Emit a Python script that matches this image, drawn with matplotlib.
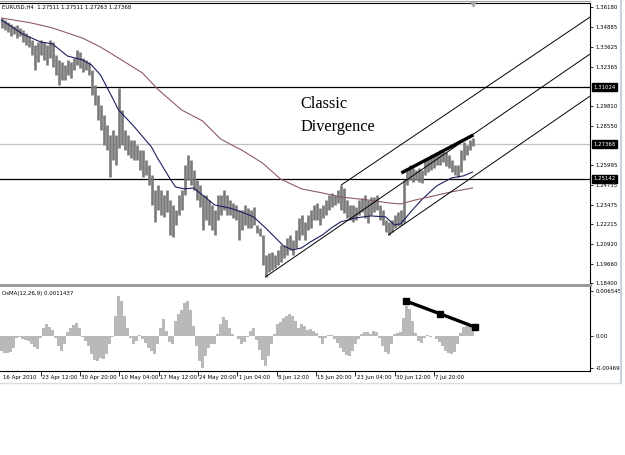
import matplotlib
matplotlib.use('Agg')
import matplotlib.pyplot as plt
import matplotlib.font_manager as fm
import numpy as np
from matplotlib.lines import Line2D
from matplotlib.transforms import blended_transform_factory, offset_copy

# pick a narrow sans font for the small MetaTrader-style labels
_names = {f.name for f in fm.fontManager.ttflist}
_cond = [f for f in fm.fontManager.ttflist
         if f.name == 'DejaVu Sans' and 'condensed' in str(f.stretch).lower()]
if 'Liberation Sans Narrow' in _names:
    SMALL = dict(family=['Liberation Sans Narrow', 'DejaVu Sans'], fontsize=5.0)
elif _cond:
    SMALL = dict(family=['DejaVu Sans'], fontstretch='condensed', fontsize=4.3)
else:
    SMALL = dict(family=['Liberation Sans', 'DejaVu Sans'], fontsize=4.3)
plt.rcParams['font.family'] = SMALL['family']

# ---------------- data (EURUSD H4, one entry per plotted bar) ----------------
highs = [1.3549, 1.3536, 1.3523, 1.3510, 1.3498, 1.3504, 1.3485, 1.3472, 1.3452, 1.3433,
         1.3407, 1.3375, 1.3395, 1.3407, 1.3395, 1.3375, 1.3407, 1.3395, 1.3311, 1.3279,
         1.3266, 1.3246, 1.3279, 1.3266, 1.3291, 1.3343, 1.3330, 1.3291, 1.3279, 1.3266,
         1.3214, 1.3118, 1.3053, 1.2989, 1.2924, 1.2860, 1.2796, 1.2828, 1.2796, 1.3098,
         1.2957, 1.2828, 1.2796, 1.2763, 1.2763, 1.2731, 1.2699, 1.2699, 1.2635, 1.2602,
         1.2538, 1.2441, 1.2474, 1.2441, 1.2409, 1.2441, 1.2377, 1.2345, 1.2313, 1.2409,
         1.2441, 1.2602, 1.2667, 1.2635, 1.2570, 1.2506, 1.2474, 1.2409, 1.2409, 1.2377,
         1.2345, 1.2313, 1.2409, 1.2409, 1.2441, 1.2409, 1.2377, 1.2358, 1.2345, 1.2313,
         1.2313, 1.2345, 1.2325, 1.2313, 1.2332, 1.2216, 1.2197, 1.2152, 1.2023, 1.2036,
         1.2042, 1.2023, 1.2055, 1.2087, 1.2087, 1.2132, 1.2152, 1.2119, 1.2184, 1.2261,
         1.2280, 1.2235, 1.2280, 1.2313, 1.2345, 1.2358, 1.2325, 1.2345, 1.2377, 1.2409,
         1.2422, 1.2409, 1.2441, 1.2474, 1.2454, 1.2377, 1.2345, 1.2345, 1.2332, 1.2377,
         1.2390, 1.2409, 1.2377, 1.2396, 1.2396, 1.2409, 1.2345, 1.2313, 1.2248, 1.2235,
         1.2248, 1.2280, 1.2300, 1.2313, 1.2506, 1.2570, 1.2602, 1.2583, 1.2570, 1.2583,
         1.2570, 1.2635, 1.2647, 1.2667, 1.2667, 1.2686, 1.2699, 1.2699, 1.2686, 1.2667,
         1.2635, 1.2602, 1.2602, 1.2699, 1.2750, 1.2731, 1.2763, 1.2776]
lows = [1.3485, 1.3472, 1.3459, 1.3433, 1.3446, 1.3420, 1.3433, 1.3395, 1.3375, 1.3362,
        1.3311, 1.3214, 1.3266, 1.3311, 1.3279, 1.3246, 1.3291, 1.3234, 1.3182, 1.3118,
        1.3150, 1.3150, 1.3182, 1.3163, 1.3214, 1.3246, 1.3227, 1.3201, 1.3214, 1.3182,
        1.3053, 1.2989, 1.2892, 1.2828, 1.2731, 1.2699, 1.2525, 1.2635, 1.2602, 1.2712,
        1.2731, 1.2699, 1.2667, 1.2647, 1.2635, 1.2635, 1.2570, 1.2525, 1.2538, 1.2474,
        1.2345, 1.2235, 1.2313, 1.2280, 1.2268, 1.2300, 1.2152, 1.2139, 1.2216, 1.2280,
        1.2313, 1.2409, 1.2506, 1.2474, 1.2441, 1.2377, 1.2332, 1.2184, 1.2248, 1.2216,
        1.2184, 1.2152, 1.2248, 1.2280, 1.2313, 1.2280, 1.2280, 1.2261, 1.2248, 1.2119,
        1.2184, 1.2216, 1.2197, 1.2197, 1.2216, 1.2165, 1.2145, 1.1958, 1.1881, 1.1913,
        1.1926, 1.1939, 1.1958, 1.1978, 1.2004, 1.2023, 1.2055, 1.2023, 1.2068, 1.2119,
        1.2152, 1.2119, 1.2184, 1.2197, 1.2248, 1.2248, 1.2216, 1.2261, 1.2280, 1.2313,
        1.2332, 1.2345, 1.2358, 1.2313, 1.2293, 1.2261, 1.2248, 1.2235, 1.2248, 1.2280,
        1.2300, 1.2261, 1.2229, 1.2280, 1.2300, 1.2313, 1.2248, 1.2216, 1.2171, 1.2152,
        1.2171, 1.2197, 1.2210, 1.2216, 1.2229, 1.2474, 1.2506, 1.2493, 1.2506, 1.2493,
        1.2487, 1.2538, 1.2557, 1.2570, 1.2583, 1.2602, 1.2602, 1.2622, 1.2596, 1.2583,
        1.2557, 1.2538, 1.2525, 1.2557, 1.2635, 1.2667, 1.2699, 1.2725]

# OsMA(12,26,9) histogram, in units of 1e-4
osma_e4 = [-22, -25, -25, -23, -18, -3, -1, -4, -6, -7,
           -12, -16, -19, -3, 12, 18, 13, 9, -3, -15,
           -22, -12, 6, 12, 16, 19, 12, -1, -7, -15,
           -26, -35, -37, -32, -34, -26, -12, -1, 29, 58,
           51, 29, 12, -3, -12, -7, 1, -4, -10, -18,
           -22, -26, -12, 12, 25, 7, -9, -12, 22, 32,
           38, 48, 51, 37, 15, -15, -37, -47, -29, -18,
           -12, -12, 3, 18, 28, 23, 12, 3, 0, -4,
           -12, -9, -1, 7, 12, -6, -20, -35, -44, -29,
           -12, 3, 18, 20, 26, 29, 32, 29, 22, 12,
           18, 15, 9, 10, 7, 4, -3, -12, -3, 1,
           1, -4, -10, -18, -23, -28, -29, -22, -12, -4,
           3, 6, 6, 3, 7, 6, -3, -15, -23, -26,
           -12, 3, 4, 6, 26, 44, 39, 22, 4, -7,
           -10, -3, 1, -1, 0, -4, -9, -15, -22, -25,
           -26, -23, -12, 4, 13, 15, 15, 11]

# moving averages (bar index, price)
ma_fast_idx = [0, 7, 13, 17, 22, 27, 30, 33, 37, 39, 44, 50, 52, 56, 58, 61, 64, 67, 71, 76,
               80, 84, 88, 91, 94, 97, 100, 103, 107, 110, 113, 118, 123, 128, 131, 133,
               137, 140, 145, 150, 154, 157]
ma_fast_val = [1.3536, 1.3446, 1.3395, 1.3382, 1.3304, 1.3279, 1.3246, 1.3182, 1.3034, 1.2957,
               1.2854, 1.2718, 1.2647, 1.2519, 1.2461, 1.2448, 1.2454, 1.2409, 1.2345, 1.2325,
               1.2300, 1.2268, 1.2197, 1.2139, 1.2081, 1.2055, 1.2068, 1.2107, 1.2152, 1.2197,
               1.2235, 1.2261, 1.2274, 1.2268, 1.2216, 1.2223, 1.2313, 1.2377, 1.2467, 1.2519,
               1.2532, 1.2557]
ma_slow_idx = [0, 10, 17, 27, 33, 40, 47, 52, 60, 67, 73, 78, 80, 87, 93, 100, 107, 113,
               122, 129, 133, 138, 144, 150, 157]
ma_slow_val = [1.3549, 1.3517, 1.3485, 1.3420, 1.3362, 1.3279, 1.3195, 1.3092, 1.2957, 1.2886,
               1.2770, 1.2718, 1.2699, 1.2615, 1.2512, 1.2448, 1.2422, 1.2396, 1.2377, 1.2358,
               1.2351, 1.2377, 1.2403, 1.2429, 1.2454]

# channel lines (start bar, start price, end bar, end price)
channel_lines = [(113.3, 1.2474, 196.7, 1.3562),
                 (88.0, 1.1881, 196.7, 1.3324),
                 (129.0, 1.2152, 196.7, 1.3053)]
price_div_idx = [133.3, 157.3]
price_div_val = [1.2551, 1.2796]
osma_div_idx = [134.7, 146.3, 157.7]
osma_div_val = [0.0051, 0.0032, 0.0013]

hlines_black = [1.31024, 1.25142]
hline_bid = 1.27368

price_ticks = [1.36180, 1.34885, 1.33625, 1.32365, 1.29810, 1.28550, 1.25995,
               1.24735, 1.23475, 1.22215, 1.20920, 1.19660, 1.18400]
boxed_levels = [1.31024, 1.27368, 1.25142]
osma_ticks = [0.006545, 0.0, -0.00469]
osma_tick_labels = ['0.006545', '0.00', '-0.00469']

time_pos = [0, 13.1, 26.2, 39.3, 52.4, 65.5, 78.6, 91.7, 104.8, 117.9, 131.0, 144.1]
time_labels = ['16 Apr 2010', '23 Apr 12:00', '30 Apr 20:00', '10 May 04:00', '17 May 12:00',
               '24 May 20:00', '1 Jun 04:00', '8 Jun 12:00', '15 Jun 20:00', '23 Jun 04:00',
               '30 Jun 12:00', '7 Jul 20:00']

# ---------------- figure ----------------
W, H = 625, 455
fig = plt.figure(figsize=(W / 100, H / 100), dpi=100)
fig.patch.set_facecolor('white')

def fx(px):
    return px / W

def fy(py):
    return 1 - py / H

def small(obj):
    obj.set_family(SMALL['family'])
    obj.set_fontsize(SMALL['fontsize'])
    if 'fontstretch' in SMALL:
        obj.set_fontstretch(SMALL['fontstretch'])

ax = fig.add_axes([0, fy(285), fx(590), (285 - 3) / H])
ax2 = fig.add_axes([0, fy(371), fx(590), (371 - 287) / H])

n = len(highs)
idx = np.arange(n)
XMIN, XMAX = -0.5, -0.5 + 590 / 3

# price bars
ax.vlines(idx, lows, highs, colors='#7a7a7a', linewidth=1.9, zorder=3)
ax.plot(ma_fast_idx, ma_fast_val, color='#1b1f5e', lw=0.8, zorder=4)
ax.plot(ma_slow_idx, ma_slow_val, color='#8e5c66', lw=0.8, zorder=4)
for (x0, y0, x1, y1) in channel_lines:
    ax.plot([x0, x1], [y0, y1], color='black', lw=0.7, zorder=5)
ax.plot(price_div_idx, price_div_val, color='black', lw=2.4, solid_capstyle='butt', zorder=6)
for lv in hlines_black:
    ax.axhline(lv, color='black', lw=0.9, zorder=2)
ax.axhline(hline_bid, color='#c0c0c0', lw=0.9, zorder=2)

ax.set_xlim(XMIN, XMAX)
ax.set_ylim(1.18290, 1.36457)
ax.set_xticks([])
ax.yaxis.set_ticks_position('right')
ax.set_yticks(price_ticks)
ax.set_yticklabels(['%.5f' % v for v in price_ticks])
ax.tick_params(axis='y', direction='out', length=2.5, width=0.6, pad=1.5, colors='black')
for t in ax.get_yticklabels():
    small(t)
ax.spines['left'].set_visible(False)
ax.spines['top'].set_linewidth(0.8)
ax.spines['right'].set_linewidth(0.8)
ax.spines['bottom'].set_color('#9a9a9a')
ax.spines['bottom'].set_linewidth(2.2)

trb = blended_transform_factory(ax.transAxes, ax.transData)
for lv in boxed_levels:
    t = ax.text(1 + 3 / 590, lv, '%.5f' % lv, transform=trb, ha='left', va='center',
                color='white', bbox=dict(boxstyle='square,pad=0.25', fc='black', ec='black'))
    small(t)

# small shift marker at top
ax.plot([157], [1.3639], marker='v', color='#a8a8a8', ms=3.5, clip_on=False, zorder=7)

# texts
fig.text(fx(300), fy(108), 'Classic', family=['Liberation Serif', 'DejaVu Serif'],
         fontsize=11.7, va='baseline', ha='left')
fig.text(fx(300), fy(131), 'Divergence', family=['Liberation Serif', 'DejaVu Serif'],
         fontsize=11.7, va='baseline', ha='left')
small(fig.text(fx(2), fy(7.5), 'EURUSD,H4  1.27511 1.27511 1.27263 1.27368',
               va='center', ha='left'))

# ---------------- OsMA panel ----------------
osma = np.array(osma_e4) * 1e-4
ax2.bar(idx, osma, width=1.0, color='#b9b9b9', edgecolor='none', zorder=2)
ax2.plot(osma_div_idx, osma_div_val, color='black', lw=2.4, marker='s', ms=4.2, zorder=5)
ax2.set_xlim(XMIN, XMAX)
ax2.set_ylim(-0.005128, 0.007129)
ax2.yaxis.set_ticks_position('right')
ax2.set_yticks(osma_ticks)
ax2.set_yticklabels(osma_tick_labels)
ax2.tick_params(axis='y', direction='out', length=2.5, width=0.6, pad=1.5)
for t in ax2.get_yticklabels():
    small(t)
ax2.set_xticks(time_pos[1:])
ax2.set_xticklabels([])
ax2.tick_params(axis='x', direction='out', length=3.5, width=0.6)
ax2.spines['left'].set_visible(False)
ax2.spines['top'].set_visible(False)
ax2.spines['right'].set_linewidth(0.8)
ax2.spines['bottom'].set_linewidth(0.8)
small(ax2.text(2 / 590, 0.95, 'OsMA(12,26,9) 0.0011437', transform=ax2.transAxes,
               va='top', ha='left'))

trx = blended_transform_factory(ax2.transData, ax2.transAxes)
for p, lab in zip(time_pos, time_labels):
    t = offset_copy(trx, fig=fig, x=1.0, y=-2.6, units='points')
    small(ax2.text(p, 0, lab, transform=t, ha='left', va='top'))

# window frame lines
fig.add_artist(Line2D([fx(620.5), fx(620.5)], [fy(0), fy(383)], color='#c9d3df', lw=1.5))
fig.add_artist(Line2D([0, fx(621)], [fy(383), fy(383)], color='#dcdcdc', lw=1.0))
fig.add_artist(Line2D([0, fx(590)], [fy(0.5), fy(0.5)], color='#a0a0a0', lw=0.8))

fig.savefig('out.png', dpi=100, facecolor='white')
